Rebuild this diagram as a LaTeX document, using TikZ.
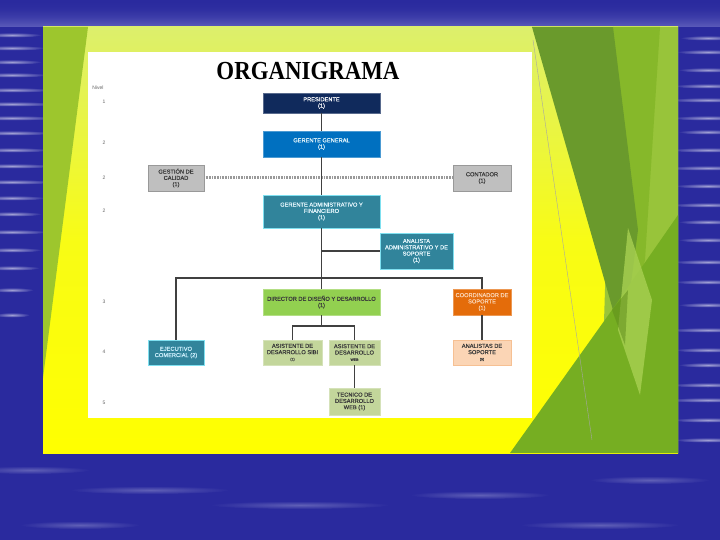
\documentclass[tikz,border=0pt]{standalone}
\usepackage{fontspec}
\setmainfont{Liberation Sans}
\newfontfamily\titlefont{Liberation Serif}
\newfontfamily\boxfont[FakeBold=0.5]{Liberation Sans}
\definecolor{bgblue}{HTML}{2A2A9E}
\definecolor{bgtop}{HTML}{5C5CBA}
\definecolor{panelleft}{HTML}{9DC62D}
\definecolor{paneltop}{HTML}{DCEF6C}
\definecolor{panelbot}{HTML}{FFFF00}
\definecolor{dkgreen}{HTML}{6A9A2C}
\definecolor{mdgreen}{HTML}{86B82A}
\definecolor{ltgreen}{HTML}{98C43A}
\definecolor{btgreen}{HTML}{76AE22}
\definecolor{pales}{HTML}{A8D052}
\definecolor{navy}{HTML}{102A5C}
\definecolor{gblue}{HTML}{0070C0}
\definecolor{gbox}{HTML}{BFBFBF}
\definecolor{teal}{HTML}{31849B}
\definecolor{cyanb}{HTML}{7FE0F0}
\definecolor{dgreen}{HTML}{92D050}
\definecolor{orng}{HTML}{E46C0A}
\definecolor{peachtx}{HTML}{FBD4B4}
\definecolor{lgreen}{HTML}{C3D69B}
\definecolor{peach}{HTML}{FBD5B5}
\definecolor{linec}{HTML}{404040}
\definecolor{darktx}{HTML}{3A3A3A}
\tikzset{
  bx/.style={draw, line width=0.8pt, align=center, inner sep=0.5pt,
    font=\boxfont\fontsize{5.7}{6.3}\selectfont, minimum width=#1},
  conn/.style={draw=linec, line width=1.2pt},
  lvl/.style={font=\fontsize{5}{5}\selectfont, text=gray!80!black},
}
\begin{document}
\begin{tikzpicture}[x=1pt,y=-1pt]
\useasboundingbox (0,0) rectangle (720,540);
% background
\fill[bgblue] (0,0) rectangle (720,540);
\foreach \i in {0,...,26}{
  \pgfmathtruncatemacro\pp{100*(\i/27)*(\i/27)}
  \fill[bgtop!\pp!bgblue] (0,\i) rectangle (720,\i+1.2);
}
\foreach \yy/\ww in {35/30,48/34,62/30,75/36,90/40,104/44,118/45,133/40,150/38,166/42,182/42,198/34,214/30,232/36,250/30,268/28,290/22,315/18}{
  \shade[inner color=white!55!bgblue, outer color=bgblue] (12,\yy) ellipse (\ww pt and 2.5pt);
}
\foreach \yy/\ww in {38/28,52/32,70/30,86/35,100/40,118/36,132/30,150/38,168/42,186/34,205/38,222/30,240/30,262/36,282/34,305/30,330/40,350/34,365/30,385/38,400/42,420/36,440/34}{
  \shade[inner color=white!55!bgblue, outer color=bgblue] (708,\yy) ellipse (\ww pt and 2.5pt);
}
\foreach \xx/\yy/\ww in {30/470/60,150/490/80,300/505/90,480/495/70,650/480/60,600/525/80,80/525/60}{
  \shade[inner color=white!25!bgblue, outer color=bgblue] (\xx,\yy) ellipse (\ww pt and 4pt);
}
% slide panel
\shade[top color=paneltop, bottom color=panelbot, middle color=panelbot!80!paneltop] (43,27) rectangle (678,453);
\fill[panelleft] (43,27) -- (88,27) -- (43,378) -- cycle;
\fill[ltgreen] (613,27) -- (678,27) -- (678,453) -- (600,453) -- cycle;
\fill[mdgreen] (613,27) -- (660,27) -- (645,260) -- (625,345) -- cycle;
\fill[dkgreen] (532,27) -- (613,27) -- (638,230) -- (623,345) -- cycle;
\fill[btgreen] (510,453) -- (678,453) -- (678,215) -- (612,310) -- cycle;
\fill[pales, opacity=0.8] (628,228) -- (652,300) -- (640,395) -- (618,330) -- cycle;
\fill[btgreen!80!black, opacity=0.5] (612,310) -- (628,290) -- (625,345) -- cycle;
\draw[gray!70, line width=0.4pt] (533,40) -- (592,440);
% white area
\fill[white] (88,52) rectangle (532,418);
% title
\node[font=\titlefont\bfseries\fontsize{26}{26}\selectfont, xscale=0.88] (title) at (308,71) {ORGANIGRAMA};
% levels
\node[lvl] (nv) at (98,88) {Nivel};
\node[lvl] (l1) at (104,102) {1};
\node[lvl] (l2) at (104,143) {2};
\node[lvl] (l3) at (104,178) {2};
\node[lvl] (l4) at (104,211) {2};
\node[lvl] (l5) at (104,302) {3};
\node[lvl] (l6) at (104,352) {4};
\node[lvl] (l7) at (104,403) {5};
% connectors (drawn before boxes)
\coordinate (bus) at (321.5,278);
\coordinate (dj) at (321.5,326);
\coordinate (ab) at (321.5,251);
\coordinate (presb) at (321.5,113);
\coordinate (dirt) at (321.5,289);
\draw[conn] (presb) -- (dirt);
\draw[gray!80, line width=3pt, dash pattern=on 0.8pt off 0.8pt] (204,178) -- (453,178);
% boxes
\node[bx=117pt, fill=navy, draw=navy!70!white, text=white, minimum height=20pt] (pres) at (321.5,103) {PRESIDENTE\\(1)};
\node[bx=117pt, fill=gblue, draw=gblue!70!white, text=white!90!cyan, minimum height=26pt] (gg) at (321.5,144) {GERENTE GENERAL\\(1)};
\node[bx=56pt, fill=gbox, draw=gbox!80!black, text=darktx, minimum height=26pt] (gest) at (176,178) {GESTIÓN DE\\CALIDAD\\(1)};
\node[bx=58pt, fill=gbox, draw=gbox!80!black, text=darktx, minimum height=26pt] (cont) at (482,178) {CONTADOR\\(1)};
\node[bx=117pt, fill=teal, draw=cyanb, text=white!90!cyan, minimum height=33pt] (gaf) at (321.5,211.5) {GERENTE ADMINISTRATIVO Y\\FINANCIERO\\(1)};
\node[bx=73pt, fill=teal, draw=cyanb, text=white!90!cyan, minimum height=36pt] (anal) at (416.5,251) {ANALISTA\\ADMINISTRATIVO Y DE\\SOPORTE\\(1)};
\node[bx=117pt, fill=dgreen, draw=dgreen!70!white, text=darktx, minimum height=26pt] (dir) at (321.5,302) {DIRECTOR DE DISEÑO Y DESARROLLO\\(1)};
\node[bx=58pt, fill=orng, draw=orng!70!white, text=peachtx, minimum height=26pt] (coord) at (482,302) {COORDINADOR DE\\SOPORTE\\(1)};
\node[bx=56pt, fill=teal, draw=cyanb, text=white!80!cyan, minimum height=25pt] (ejec) at (176,352.5) {EJECUTIVO\\COMERCIAL (2)};
\node[bx=59pt, fill=lgreen, draw=lgreen!70!white, text=darktx, minimum height=25pt] (asib) at (292.5,352.5) {ASISTENTE DE\\DESARROLLO SIBI\\{\fontsize{3.5}{4}\selectfont (1)}};
\node[bx=51pt, fill=lgreen, draw=lgreen!70!white, text=darktx, minimum height=25pt] (aweb) at (354.5,352.5) {ASISTENTE DE\\DESARROLLO\\{\fontsize{3.5}{4}\selectfont WEB}};
\node[bx=58pt, fill=peach, draw=peach!80!orng, text=darktx, minimum height=25pt] (ansop) at (482,352.5) {ANALISTAS DE\\SOPORTE\\{\fontsize{3.5}{4}\selectfont (5)}};
\node[bx=51pt, fill=lgreen, draw=lgreen!70!white, text=darktx, minimum height=27pt] (tec) at (354.5,401.5) {TECNICO DE\\DESARROLLO\\WEB (1)};
% connectors between named boxes
\draw[conn] (pres.south) -- (gg.north);
\draw[conn] (gg.south) -- (gaf.north);
\draw[conn] (gaf.south) -- (dir.north);
\draw[conn] (ab) -- (anal.west);
\draw[conn] (ejec.north) |- (bus) -| (coord.north);
\draw[conn] (dir.south) -- (dj);
\draw[conn] (asib.north) |- (dj) -| (aweb.north);
\draw[conn] (aweb.south) -- (tec.north);
\draw[conn] (coord.south) -- (ansop.north);
\end{tikzpicture}
\end{document}
